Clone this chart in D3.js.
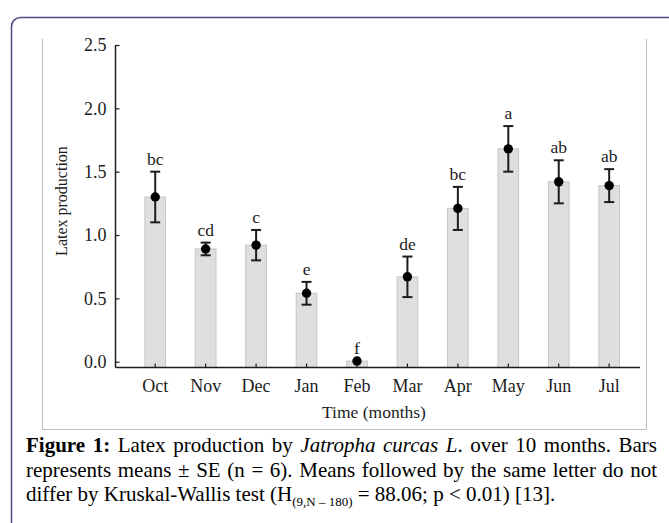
<!DOCTYPE html>
<html>
<head>
<meta charset="utf-8">
<script src="https://cdn.jsdelivr.net/npm/d3@7"></script>
<style>
  body { margin: 0; background: #fff; }
  svg { display: block; font-family: "Liberation Serif", "Times New Roman", serif; }
</style>
</head>
<body>
<div class="chart"></div>
<script>
const months = ["Oct", "Nov", "Dec", "Jan", "Feb", "Mar", "Apr", "May", "Jun", "Jul"];
const means = [1.30, 0.89, 0.92, 0.54, 0.005, 0.67, 1.21, 1.68, 1.42, 1.39];
const se = [0.20, 0.05, 0.12, 0.09, 0, 0.16, 0.17, 0.18, 0.17, 0.13];
const letters = ["bc", "cd", "c", "e", "f", "de", "bc", "a", "ab", "ab"];
const yTicks = [0, 0.5, 1.0, 1.5, 2.0, 2.5];

const data = months.map((m, i) => ({ month: m, mean: means[i], se: se[i], letter: letters[i] }));

const w = 669, h = 523;
const svg = d3.select(".chart").append("svg").attr("width", w).attr("height", h);

// outer page frame + inner figure box
svg.append("rect")
  .attr("x", 11.5).attr("y", 17.5).attr("width", 720).attr("height", 600)
  .attr("rx", 9).attr("fill", "none").attr("stroke", "#4a4a7c").attr("stroke-width", 1.5);
svg.append("path")
  .attr("d", "M42.5,39V429.5H646.5V39")
  .attr("fill", "none").attr("stroke", "#bdbdbd").attr("stroke-width", 1);

const y = d3.scaleLinear().domain([0, 2.5]).range([361.7, 45]);
const x = d3.scaleBand().domain(months).range([130, 634.4]).paddingInner(0.59).paddingOuter(0.295);
const axisY = 367.5, axisX = 115.5;

const ink = "#1c1c1c";
const fs = 17.5;

// bars
svg.selectAll("rect.bar")
  .data(data)
  .enter()
  .append("rect")
  .attr("class", "bar")
  .attr("x", d => x(d.month))
  .attr("y", d => y(d.mean))
  .attr("width", x.bandwidth())
  .attr("height", d => axisY - y(d.mean))
  .attr("fill", "#dfdfdf")
  .attr("stroke", "#c6c6c6")
  .attr("stroke-width", 1);

// y axis
const gy = svg.append("g")
  .attr("transform", `translate(${axisX},0)`)
  .call(d3.axisLeft(y).tickValues(yTicks).tickFormat(d3.format(".1f"))
    .tickSizeInner(-4).tickSizeOuter(0).tickPadding(9));
gy.select(".domain").remove();
gy.selectAll("line").attr("stroke", ink).attr("stroke-width", 1.2);
gy.selectAll("text").attr("font-family", "Liberation Serif").attr("font-size", 18).attr("fill", ink);
gy.append("line").attr("x1", 0).attr("x2", 0).attr("y1", y(2.5)).attr("y2", axisY)
  .attr("stroke", ink).attr("stroke-width", 1.5);

// x axis
const gx = svg.append("g")
  .attr("transform", `translate(0,${axisY})`)
  .call(d3.axisBottom(x).tickSizeInner(-4).tickSizeOuter(0).tickPadding(12));
gx.select(".domain").remove();
gx.selectAll("line").attr("stroke", ink).attr("stroke-width", 1.2);
gx.selectAll("text").attr("font-family", "Liberation Serif").attr("font-size", 18).attr("fill", ink);
gx.append("line").attr("x1", axisX).attr("x2", 640).attr("y1", 0).attr("y2", 0)
  .attr("stroke", ink).attr("stroke-width", 1.5);

// error bars
const cx = d => x(d.month) + x.bandwidth() / 2;
const eb = svg.append("g").attr("stroke", ink).attr("stroke-width", 2);
data.filter(d => d.se > 0).forEach(d => {
  eb.append("line").attr("x1", cx(d)).attr("x2", cx(d)).attr("y1", y(d.mean + d.se)).attr("y2", y(d.mean - d.se));
  eb.append("line").attr("x1", cx(d) - 5).attr("x2", cx(d) + 5).attr("y1", y(d.mean + d.se)).attr("y2", y(d.mean + d.se));
  eb.append("line").attr("x1", cx(d) - 5).attr("x2", cx(d) + 5).attr("y1", y(d.mean - d.se)).attr("y2", y(d.mean - d.se));
});

svg.selectAll("circle.pt")
  .data(data)
  .enter()
  .append("circle")
  .attr("class", "pt")
  .attr("cx", cx)
  .attr("cy", d => y(d.mean))
  .attr("r", 4.7)
  .attr("fill", "#000");

// significance letters
svg.selectAll("text.letter")
  .data(data)
  .enter()
  .append("text")
  .attr("class", "letter")
  .attr("x", cx)
  .attr("y", d => y(d.mean + d.se) - 7)
  .attr("text-anchor", "middle")
  .attr("font-size", fs)
  .attr("fill", ink)
  .text(d => d.letter);

// axis titles
svg.append("text")
  .attr("transform", "translate(67,201) rotate(-90)")
  .attr("text-anchor", "middle")
  .attr("font-size", 16)
  .attr("fill", ink)
  .text("Latex production");
svg.append("text")
  .attr("x", 374).attr("y", 418)
  .attr("text-anchor", "middle")
  .attr("font-size", fs)
  .attr("fill", ink)
  .text("Time (months)");

// caption
const capX = 26, capRight = 657, capSize = 21;
const cap = svg.append("g").attr("font-size", capSize).attr("fill", "#000");

const l1 = cap.append("text").attr("x", capX).attr("y", 452);
l1.append("tspan").attr("font-weight", "bold").text("Figure 1:");
l1.append("tspan").text(" Latex production by ");
l1.append("tspan").attr("font-style", "italic").text("Jatropha curcas L");
l1.append("tspan").text(". over 10 months. Bars");

const l2 = cap.append("text").attr("x", capX).attr("y", 476.5)
  .text("represents means \u00b1 SE (n = 6). Means followed by the same letter do not");

const l3 = cap.append("text").attr("x", capX).attr("y", 501);
l3.append("tspan").text("differ by Kruskal-Wallis test (H");
l3.append("tspan").attr("font-size", 13).attr("dy", 5).text("(9,N \u2013 180)");
l3.append("tspan").attr("dy", -5).text(" = 88.06; p < 0.01) [13].");

// justify the first two caption lines
[l1, l2].forEach(t => {
  const node = t.node();
  const len = node.getComputedTextLength();
  const spaces = (node.textContent.match(/ /g) || []).length;
  if (spaces > 0 && len < capRight - capX) {
    t.attr("word-spacing", (capRight - capX - len) / spaces);
  }
});
</script>
</body>
</html>
